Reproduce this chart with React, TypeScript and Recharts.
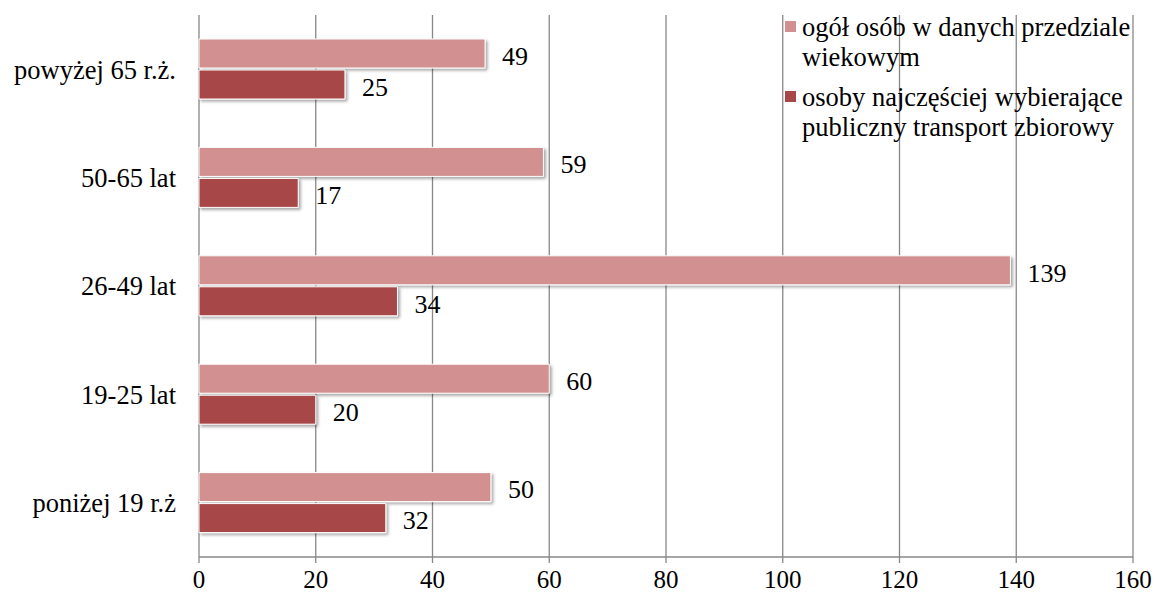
import React from "react";
import { BarChart, Bar, XAxis, YAxis, CartesianGrid, LabelList, Legend } from "recharts";

const categories = ["powyżej 65 r.ż.", "50-65 lat", "26-49 lat", "19-25 lat", "poniżej 19 r.ż"];
const ogolValues = [49, 59, 139, 60, 50];
const wybierajaceValues = [25, 17, 34, 20, 32];
const xTicks = [0, 20, 40, 60, 80, 100, 120, 140, 160];
const boundaryTicks = [0, 1, 2, 3, 4, 5];
const seriesNames = ["ogół osób w danych przedziale wiekowym", "osoby najczęściej wybierające publiczny transport zbiorowy"];
const seriesColors = ["#D29090", "#A84747"];

const data = categories.map((c, i) => ({ cat: c, ogol: ogolValues[i], wyb: wybierajaceValues[i] }));

const FONT = '"Liberation Serif", serif';

const LegendContent = () => (
  <div style={{ fontFamily: FONT, fontSize: 26.5, lineHeight: "30px", color: "#000" }}>
    {seriesNames.map((n, i) => (
      <div key={n} style={{ display: "flex", alignItems: "flex-start", marginBottom: i === 0 ? 10 : 0 }}>
        <div style={{ width: 11, height: 11, background: seriesColors[i], marginTop: 9, marginRight: 6, flex: "none" }} />
        <div style={{ width: 348 }}>{n}</div>
      </div>
    ))}
  </div>
);

export default function App() {
  return (
    <div style={{ position: "absolute", left: 0, top: 0, width: 1157, height: 600, background: "#fff", fontFamily: FONT }}>
      <BarChart
        width={1157}
        height={600}
        data={data}
        layout="vertical"
        margin={{ top: 15, right: 24, bottom: 0, left: 0 }}
        barSize={29}
        barGap={2}
      >
        <defs>
          <filter id="shadow" x="-10%" y="-30%" width="120%" height="160%">
            <feDropShadow dx="2" dy="2" stdDeviation="1.5" floodColor="#000" floodOpacity="0.35" />
          </filter>
        </defs>
        <CartesianGrid horizontal={false} vertical={true} stroke="#888" strokeWidth={1.3} />
        <XAxis
          type="number"
          domain={[0, 160]}
          ticks={xTicks}
          interval={0}
          height={43}
          tickSize={6}
          tickMargin={7}
          stroke="#888"
          axisLine={{ stroke: "#888", strokeWidth: 1.3 }}
          tickLine={{ stroke: "#888", strokeWidth: 1.3 }}
          tick={{ fill: "#000", fontSize: 25, fontFamily: FONT }}
        />
        <YAxis
          yAxisId="b"
          type="number"
          domain={[0, 5]}
          ticks={boundaryTicks}
          interval={0}
          width={0}
          tick={false}
          tickSize={8}
          axisLine={{ stroke: "#888", strokeWidth: 1.3 }}
          tickLine={{ stroke: "#888", strokeWidth: 1.3 }}
          allowDataOverflow
        />
        <YAxis
          type="category"
          dataKey="cat"
          width={199}
          axisLine={false}
          tickLine={false}
          tickSize={8}
          tickMargin={15}
          interval={0}
          tick={{ fill: "#000", fontSize: 26.5, fontFamily: FONT }}
        />
        <Legend
          layout="horizontal"
          verticalAlign="middle"
          align="center"
          content={<LegendContent />}
          wrapperStyle={{ position: "absolute", left: 785, top: 12, width: 372, height: 150 }}
        />
        <Bar dataKey="ogol" name={seriesNames[0]} fill={seriesColors[0]} stroke="#fff" strokeWidth={1} filter="url(#shadow)" isAnimationActive={false}>
          <LabelList dataKey="ogol" position="right" offset={17} dy={2} fill="#000" fontSize={26} fontFamily={FONT} />
        </Bar>
        <Bar dataKey="wyb" name={seriesNames[1]} fill={seriesColors[1]} stroke="#fff" strokeWidth={1} filter="url(#shadow)" isAnimationActive={false}>
          <LabelList dataKey="wyb" position="right" offset={17} dy={2} fill="#000" fontSize={26} fontFamily={FONT} />
        </Bar>
      </BarChart>
    </div>
  );
}
